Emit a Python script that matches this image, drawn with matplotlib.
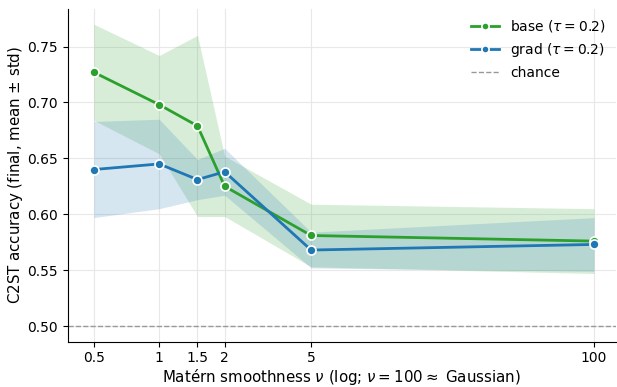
import matplotlib
matplotlib.use("Agg")
import matplotlib.pyplot as plt
import numpy as np

nu = [0.5, 1, 1.5, 2, 5, 100]
nu_labels = ["0.5", "1", "1.5", "2", "5", "100"]

base_mean = [0.727, 0.698, 0.679, 0.625, 0.581, 0.576]
base_std = [0.043, 0.044, 0.081, 0.027, 0.028, 0.029]

grad_mean = [0.640, 0.645, 0.631, 0.638, 0.568, 0.573]
grad_std = [0.043, 0.040, 0.018, 0.021, 0.016, 0.024]

chance = 0.5

green = "#2ca02c"
blue = "#1f77b4"

fig, ax = plt.subplots(figsize=(6.17, 3.87), dpi=100)

for mean, std, color, label in [
    (base_mean, base_std, green, r"base ($\tau=0.2$)"),
    (grad_mean, grad_std, blue, r"grad ($\tau=0.2$)"),
]:
    m = np.array(mean)
    s = np.array(std)
    ax.fill_between(nu, m - s, m + s, color=color, alpha=0.18, linewidth=0)
    ax.plot(nu, m, color=color, lw=2, marker="o", ms=6.5,
            markeredgecolor="white", markeredgewidth=1.2, label=label)

ax.axhline(chance, color="#999999", ls="--", lw=1, label="chance")

ax.set_xscale("log")
ax.set_xticks(nu)
ax.set_xticklabels(nu_labels)
ax.minorticks_off()
ax.set_xlim(0.38, 126)
ax.set_ylim(0.486, 0.784)
ax.set_yticks([0.50, 0.55, 0.60, 0.65, 0.70, 0.75])

ax.grid(True, color="#e8e8e8", lw=0.8)
ax.set_axisbelow(True)
for side in ["top", "right"]:
    ax.spines[side].set_visible(False)

ax.tick_params(labelsize=10)
ax.set_xlabel(r"Matérn smoothness $\nu$ (log; $\nu=100\approx$ Gaussian)",
              fontsize=10.8, labelpad=1)
ax.set_ylabel(r"C2ST accuracy (final, mean $\pm$ std)", fontsize=10.8,
              labelpad=1.5)

ax.legend(loc="upper right", frameon=False, fontsize=10, markerscale=0.8,
          borderaxespad=0.3)

fig.subplots_adjust(left=0.11, right=0.998, top=0.978, bottom=0.117)
fig.savefig("out.png", dpi=100)
